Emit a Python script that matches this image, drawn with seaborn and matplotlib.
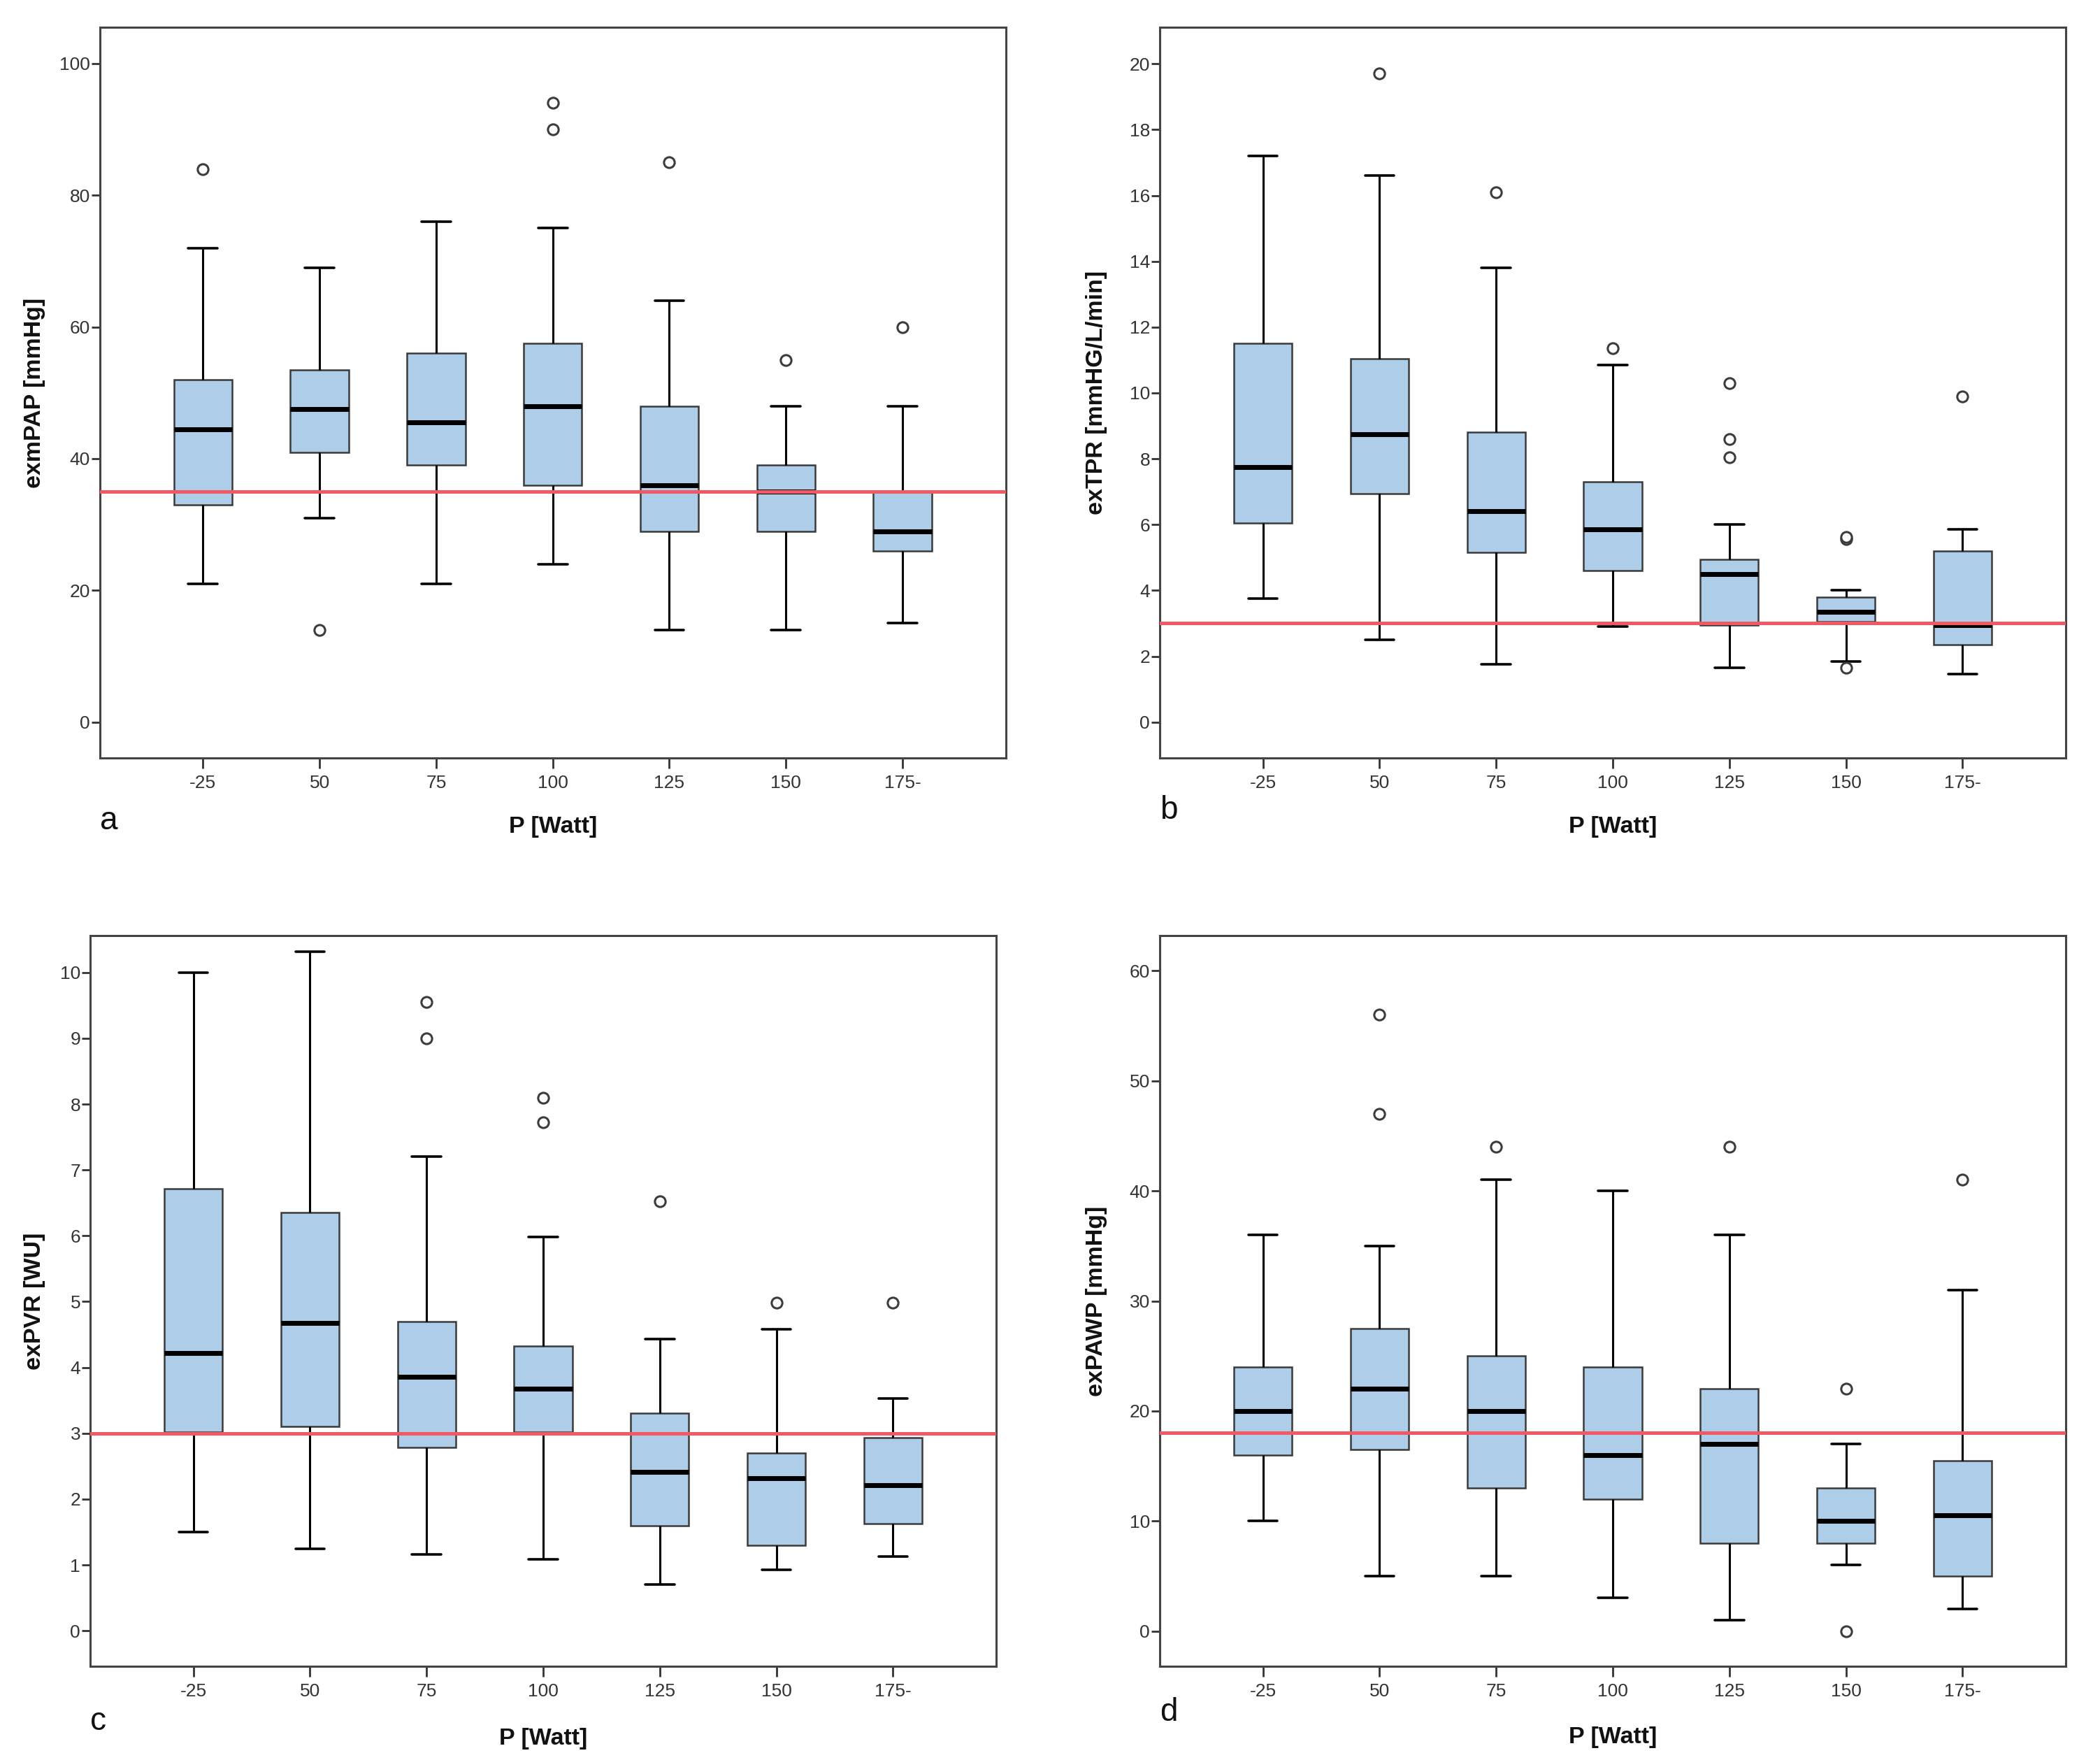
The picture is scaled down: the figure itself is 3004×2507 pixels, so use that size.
import numpy as np
import pandas as pd
import matplotlib
matplotlib.use("Agg")
import matplotlib.pyplot as plt
from matplotlib import font_manager as fm
import seaborn as sns

# ---------------- data ----------------
categories = ["-25", "50", "75", "100", "125", "150", "175-"]

# panel a: exmPAP [mmHg]
a_lo  = [21, 31, 21, 24, 14, 14, 15]
a_q1  = [33, 41, 39, 36, 29, 29, 26]
a_med = [44.5, 47.5, 45.5, 48, 36, 35, 29]
a_q3  = [52, 53.5, 56, 57.5, 48, 39, 35]
a_hi  = [72, 69, 76, 75, 64, 48, 48]
a_out_cat = ["-25", "50", "100", "100", "125", "150", "175-"]
a_out_val = [84, 14, 90, 94, 85, 55, 60]
a_ref = 35

# panel b: exTPR [mmHG/L/min]
b_lo  = [3.75, 2.5, 1.75, 2.9, 1.65, 1.85, 1.45]
b_q1  = [6.05, 6.95, 5.15, 4.6, 2.95, 3.05, 2.35]
b_med = [7.75, 8.75, 6.4, 5.85, 4.5, 3.35, 2.95]
b_q3  = [11.5, 11.05, 8.8, 7.3, 4.95, 3.8, 5.2]
b_hi  = [17.2, 16.6, 13.8, 10.85, 6.0, 4.0, 5.85]
b_out_cat = ["50", "75", "100", "125", "125", "125", "150", "150", "150", "175-"]
b_out_val = [19.7, 16.1, 11.35, 10.3, 8.6, 8.05, 5.55, 5.62, 1.65, 9.9]
b_ref = 3

# panel c: exPVR [WU]
c_lo  = [1.5, 1.24, 1.16, 1.08, 0.7, 0.93, 1.13]
c_q1  = [3.02, 3.1, 2.78, 3.02, 1.6, 1.3, 1.63]
c_med = [4.22, 4.68, 3.86, 3.68, 2.41, 2.32, 2.21]
c_q3  = [6.72, 6.35, 4.7, 4.33, 3.3, 2.7, 2.93]
c_hi  = [10.0, 10.32, 7.2, 5.98, 4.43, 4.58, 3.53]
c_out_cat = ["75", "75", "100", "100", "125", "150", "175-"]
c_out_val = [9.55, 9.0, 8.1, 7.72, 6.52, 4.98, 4.98]
c_ref = 3

# panel d: exPAWP [mmHg]
d_lo  = [10, 5, 5, 3, 1, 6, 2]
d_q1  = [16, 16.5, 13, 12, 8, 8, 5]
d_med = [20, 22, 20, 16, 17, 10, 10.5]
d_q3  = [24, 27.5, 25, 24, 22, 13, 15.5]
d_hi  = [36, 35, 41, 40, 36, 17, 31]
d_out_cat = ["50", "50", "75", "125", "150", "150", "175-"]
d_out_val = [56, 47, 44, 44, 22, 0, 41]
d_ref = 18

ylabels = ["exmPAP [mmHg]", "exTPR [mmHG/L/min]", "exPVR [WU]", "exPAWP [mmHg]"]
xlabel = "P [Watt]"
letters = ["a", "b", "c", "d"]
yticks = [np.arange(0, 101, 20), np.arange(0, 21, 2), np.arange(0, 11, 1), np.arange(0, 61, 10)]
ylims = [(-5.45, 105.5), (-1.09, 21.11), (-0.54, 10.56), (-3.2, 63.2)]

# ---------------- style ----------------
sns.set_theme(style="white")
names = {f.name for f in fm.fontManager.ttflist}
base_font = "Liberation Sans" if "Liberation Sans" in names else "DejaVu Sans"
narrow = "Liberation Sans Narrow" if "Liberation Sans Narrow" in names else None
plt.rcParams["font.family"] = [base_font, "DejaVu Sans"]
tick_family = [narrow, "DejaVu Sans"] if narrow else [base_font, "DejaVu Sans"]
tick_size = 22 if narrow else 19

W, H = 3004, 2507
fig = plt.figure(figsize=(W / 100, H / 100), dpi=100)
fig.patch.set_facecolor("white")

axw, axh = 1296 / W, 1045 / H
rects = [
    (142.7 / W, 1 - 1084 / H, axw, axh),
    (1659 / W, 1 - 1084 / H, axw, axh),
    (129 / W, 1 - 2383 / H, axw, axh),
    (1659 / W, 1 - 2383 / H, axw, axh),
]
ylab_x = [-0.060, -0.0575, -0.0495, -0.0575]
xlab_y = [-0.094, -0.094, -0.099, -0.097]
let_y = [-0.098, -0.083, -0.087, -0.075]

panels = [
    (a_lo, a_q1, a_med, a_q3, a_hi, a_out_cat, a_out_val, a_ref),
    (b_lo, b_q1, b_med, b_q3, b_hi, b_out_cat, b_out_val, b_ref),
    (c_lo, c_q1, c_med, c_q3, c_hi, c_out_cat, c_out_val, c_ref),
    (d_lo, d_q1, d_med, d_q3, d_hi, d_out_cat, d_out_val, d_ref),
]

box_fill = "#aecde9"
edge_col = "#3a3a3a"

for i, (lo, q1, med, q3, hi, ocat, oval, ref) in enumerate(panels):
    ax = fig.add_axes(rects[i])
    rows = []
    for k, cat in enumerate(categories):
        for v in (lo[k], q1[k], med[k], q3[k], hi[k]):
            rows.append({"P": cat, "v": v})
    df = pd.DataFrame(rows)
    sns.boxplot(
        data=df, x="P", y="v", order=categories, ax=ax,
        whis=(0, 100), showfliers=False, width=0.5, saturation=1,
        color=box_fill, linecolor=edge_col,
        boxprops=dict(edgecolor=edge_col, linewidth=1.8),
        medianprops=dict(color="black", linewidth=5),
        whiskerprops=dict(color="black", linewidth=2.2),
        capprops=dict(color="black", linewidth=2.6),
    )
    odf = pd.DataFrame({"P": ocat, "v": oval})
    sns.stripplot(
        data=odf, x="P", y="v", order=categories, ax=ax, jitter=False,
        color="white", edgecolor="#3c3c3c", linewidth=2.2, size=11, zorder=5,
    )
    ax.axhline(ref, color="#f05a64", linewidth=3.6, zorder=6)

    ax.set_xlim(-0.885, 6.885)
    ax.set_ylim(*ylims[i])
    ax.set_yticks(yticks[i])
    ax.set_yticklabels([str(int(t)) for t in yticks[i]], family=tick_family,
                       fontsize=tick_size, color="#333333")
    ax.set_xticks(range(len(categories)))
    ax.set_xticklabels(categories, family=tick_family, fontsize=tick_size, color="#333333")
    ax.tick_params(axis="y", direction="out", length=9, width=2, color="#333333", pad=1, left=True)
    ax.tick_params(axis="x", direction="out", length=11, width=2, color="#333333", pad=6, bottom=True)
    for s in ax.spines.values():
        s.set_visible(True)
        s.set_color("#444444")
        s.set_linewidth(2.2)

    ax.set_ylabel(ylabels[i], fontsize=24.5, fontweight="bold", color="#111111")
    ax.yaxis.set_label_coords(ylab_x[i], 0.5)
    ax.set_xlabel(xlabel, fontsize=24.5, fontweight="bold", color="#111111", va="center")
    ax.xaxis.set_label_coords(0.5, xlab_y[i])
    ax.text(0.0, let_y[i], letters[i], transform=ax.transAxes,
            fontsize=33, ha="left", va="baseline", color="#111111")

fig.savefig("out.png", dpi=100, facecolor="white")
